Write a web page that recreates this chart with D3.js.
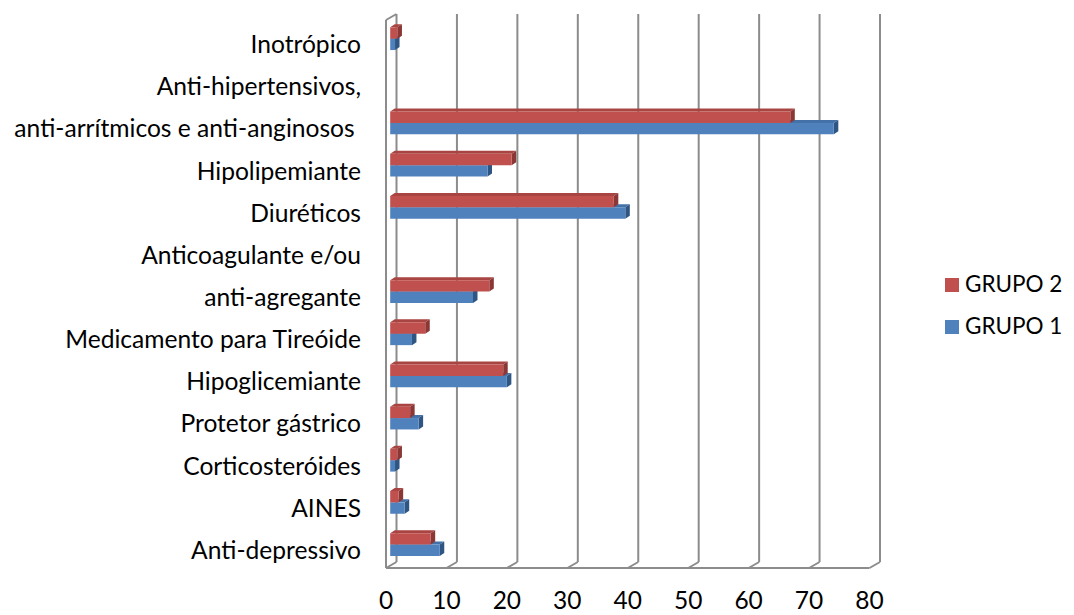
<!DOCTYPE html>
<html>
<head>
<meta charset="utf-8">
<script src="https://cdn.jsdelivr.net/npm/d3@7/dist/d3.min.js"></script>
<style>
  html, body { margin: 0; padding: 0; background: #ffffff; }
  text { font-family: Lato, "Open Sans", sans-serif; fill: #000; white-space: pre; }
</style>
</head>
<body>
<svg id="chart" width="1074" height="615"></svg>
<script>
// Categories listed bottom → top (as Excel plots them)
const categories = [
  "Anti-depressivo",
  "AINES",
  "Corticosteróides",
  "Protetor gástrico",
  "Hipoglicemiante",
  "Medicamento para Tireóide",
  "anti-agregante",
  "Anticoagulante e/ou",
  "Diuréticos",
  "Hipolipemiante",
  "anti-arrítmicos e anti-anginosos ",
  "Anti-hipertensivos,",
  "Inotrópico"
];
const grupo1 = [8.2, 2.4, 0.8, 4.7, 19.3, 3.6, 13.7, null, 38.9, 16.1, 73.4, null, 0.8];
const grupo2 = [6.7, 1.4, 1.2, 3.3, 18.7, 5.8, 16.4, null, 37.0, 20.1, 66.2, null, 1.2];
const seriesNames = ["GRUPO 1", "GRUPO 2"];
const xTicks = [0, 10, 20, 30, 40, 50, 60, 70, 80];

const svg = d3.select("#chart");

// front-plane scales
const x = d3.scaleLinear().domain([0, 80]).range([386, 869.5]);
const y = d3.scaleBand().domain(categories).range([568, 20]);

// 3D depth offsets
const depth = { dx: 10.5, dy: -6 };      // full wall depth
const barPlane = { dx: 4.2, dy: -2.4 };   // plane where bars' front faces sit
const ext = { dx: 4.5, dy: -3 };          // bar extrusion

const gridColor = "#8c8c8c";
const frontTop = 20, floorY = 568;

const g = svg.append("g");

// Back wall gridlines
g.selectAll("line.grid").data(xTicks).enter().append("line")
  .attr("x1", d => x(d) + depth.dx).attr("x2", d => x(d) + depth.dx)
  .attr("y1", floorY + depth.dy).attr("y2", frontTop + depth.dy)
  .attr("stroke", gridColor).attr("stroke-width", 2);

// Floor slanted lines at each tick
g.selectAll("line.floor").data(xTicks).enter().append("line")
  .attr("x1", d => x(d) + depth.dx).attr("y1", floorY + depth.dy)
  .attr("x2", d => x(d)).attr("y2", floorY)
  .attr("stroke", gridColor).attr("stroke-width", 2);

// Floor front edge
g.append("line")
  .attr("x1", x(0)).attr("x2", x(80))
  .attr("y1", floorY).attr("y2", floorY)
  .attr("stroke", gridColor).attr("stroke-width", 2);

// Left wall: front vertical and top slant
g.append("line")
  .attr("x1", x(0)).attr("x2", x(0))
  .attr("y1", floorY).attr("y2", frontTop)
  .attr("stroke", gridColor).attr("stroke-width", 2);
g.append("line")
  .attr("x1", x(0)).attr("y1", frontTop)
  .attr("x2", x(0) + depth.dx).attr("y2", frontTop + depth.dy)
  .attr("stroke", gridColor).attr("stroke-width", 2);

// Bars
const bh = y.bandwidth() * 0.27;
const series = [
  { name: seriesNames[0], values: grupo1, front: "#4F81BD", top: "#4472A8", side: "#2F5583", offset: 0 },
  { name: seriesNames[1], values: grupo2, front: "#C0504D", top: "#A84542", side: "#8A3735", offset: -1 }
];

function barPath(x0, x1, yTop, h) {
  return {
    front: `M${x0},${yTop}H${x1}V${yTop + h}H${x0}Z`,
    top: `M${x0},${yTop}L${x0 + ext.dx},${yTop + ext.dy}H${x1 + ext.dx}L${x1},${yTop}Z`,
    side: `M${x1},${yTop}L${x1 + ext.dx},${yTop + ext.dy}V${yTop + h + ext.dy}L${x1},${yTop + h}Z`
  };
}

const barsG = g.append("g");
series.forEach(s => {
  categories.forEach((c, i) => {
    const v = s.values[i];
    if (v == null) return;
    const cy = y(c) + y.bandwidth() / 2 + barPlane.dy;
    const yTop = cy + s.offset * bh;
    const x0 = x(0) + barPlane.dx, x1 = x(v) + barPlane.dx;
    const p = barPath(x0, x1, yTop, bh);
    barsG.append("path").attr("d", p.top).attr("fill", s.top);
    barsG.append("path").attr("d", p.side).attr("fill", s.side);
    barsG.append("path").attr("d", p.front).attr("fill", s.front);
  });
});

// Category labels
const fs = 24.6;
g.selectAll("text.cat").data(categories).enter().append("text")
  .attr("x", 361)
  .attr("y", d => y(d) + y.bandwidth() / 2 + 12)
  .attr("text-anchor", "end")
  .attr("font-size", fs)
  .text(d => d);

// X tick labels (front plane)
g.selectAll("text.tick").data(xTicks).enter().append("text")
  .attr("x", d => x(d))
  .attr("y", 609)
  .attr("text-anchor", "middle")
  .attr("font-size", 24.5)
  .text(d => d);

// Legend (GRUPO 2 on top)
const legendItems = [series[1], series[0]];
const lg = svg.append("g");
legendItems.forEach((s, i) => {
  const ly = 278 + i * 42;
  lg.append("rect").attr("x", 945).attr("y", ly).attr("width", 14).attr("height", 14).attr("fill", s.front);
  lg.append("text").attr("x", 965).attr("y", ly + 14).attr("font-size", 22.5).text(s.name);
});
</script>
</body>
</html>
